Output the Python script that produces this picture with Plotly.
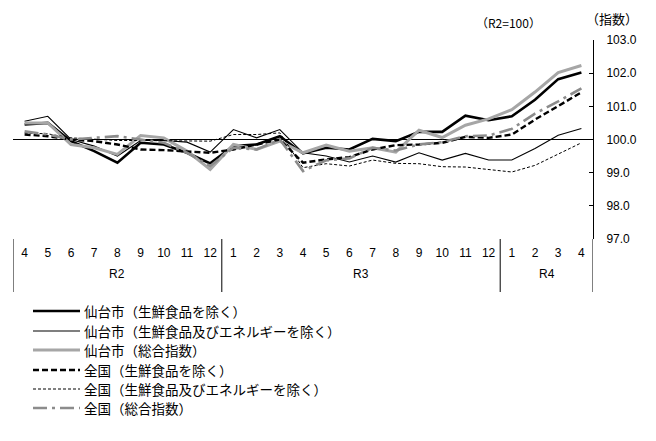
import plotly.graph_objects as go

# ---- data ----
months = ["4", "5", "6", "7", "8", "9", "10", "11", "12",
          "1", "2", "3", "4", "5", "6", "7", "8", "9", "10", "11", "12",
          "1", "2", "3", "4"]
years = ["R2", "R3", "R4"]
year_centers = [4, 14.5, 22.5]
year_breaks = [-0.5, 8.5, 20.5, 24.5]

sendai_core = [100.45, 100.5, 99.95, 99.65, 99.3, 99.9, 99.85, 99.6, 99.28,
               99.8, 99.85, 100.1, 99.58, 99.75, 99.7, 100.02, 99.95, 100.23, 100.23,
               100.72, 100.58, 100.7, 101.2, 101.82, 102.02]
sendai_corecore = [100.55, 100.7, 100.0, 99.8, 99.5, 99.97, 99.97, 99.92, 99.62,
                   100.3, 100.05, 100.3, 99.6, 99.5, 99.32, 99.5, 99.32, 99.6, 99.38,
                   99.58, 99.38, 99.38, 99.73, 100.13, 100.33]
sendai_all = [100.5, 100.5, 99.85, 99.75, 99.55, 100.12, 100.05, 99.65, 99.1,
              99.85, 99.7, 99.95, 99.6, 99.83, 99.65, 99.75, 99.62, 100.28, 100.06,
              100.43, 100.62, 100.9, 101.43, 102.02, 102.23]
national_core = [100.15, 100.1, 100.0, 99.95, 99.85, 99.7, 99.68, 99.65, 99.6,
                 99.7, 99.85, 100.0, 99.3, 99.4, 99.47, 99.7, 99.83, 99.85, 99.9,
                 100.08, 100.05, 100.15, 100.6, 101.0, 101.42]
national_corecore = [100.2, 100.17, 100.05, 100.0, 99.97, 99.97, 99.97, 99.97, 99.95,
                     100.15, 100.15, 100.2, 99.15, 99.27, 99.2, 99.38, 99.28, 99.27, 99.18,
                     99.17, 99.1, 99.02, 99.22, 99.55, 99.9]
national_all = [100.25, 100.15, 100.0, 100.05, 100.1, 100.0, 99.9, 99.6, 99.2,
                99.75, 99.7, 100.0, 99.05, 99.37, 99.43, 99.75, 99.67, 99.85, 99.92,
                100.1, 100.12, 100.32, 100.78, 101.15, 101.54]

names = ["仙台市（生鮮食品を除く）", "仙台市（生鮮食品及びエネルギーを除く）", "仙台市（総合指数）",
         "全国（生鮮食品を除く）", "全国（生鮮食品及びエネルギーを除く）", "全国（総合指数）"]
series = [sendai_core, sendai_corecore, sendai_all, national_core, national_corecore, national_all]
styles = [
    dict(color="black", width=2.6, dash="solid"),
    dict(color="black", width=1.1, dash="solid"),
    dict(color="#A6A6A6", width=3, dash="solid"),
    dict(color="black", width=2.4, dash="6px,3px"),
    dict(color="black", width=1, dash="3px,2px"),
    dict(color="#8C8C8C", width=2.6, dash="14px,5px,3px,5px"),
]

# page offset (browser body margin) is 8px
OFF = 8
W, H = 656 - OFF, 441 - OFF
ML, MR, MT, MB = 13 - OFF, 63, 40 - OFF, 202
PW, PH = W - ML - MR, H - MT - MB


def px_x(p):
    # p = page pixel x
    return (p - OFF - ML) / PW


def px_y(p):
    return (H - MB - (p - OFF)) / PH


x = list(range(len(months)))
fig = go.Figure()
for name, vals, st in zip(names, series, styles):
    fig.add_trace(go.Scatter(x=x, y=vals, mode="lines", name=name, line=st,
                             showlegend=False, hoverinfo="skip"))

shapes = []
shapes.append(dict(type="line", xref="x", yref="y", x0=-0.5, x1=24.5, y0=100, y1=100,
                   line=dict(color="black", width=1), layer="below"))
for b in year_breaks:
    shapes.append(dict(type="line", xref="x", yref="paper", x0=b, x1=b,
                       y0=0, y1=px_y(292), line=dict(color="black", width=1)))

annotations = []
for lab, c in zip(years, year_centers):
    annotations.append(dict(text=lab, x=c, y=px_y(274), xref="x", yref="paper",
                            xanchor="center", yanchor="middle", showarrow=False,
                            font=dict(size=12, family="Liberation Sans", color="black")))
annotations.append(dict(text="（R2=100）", x=px_x(508), y=px_y(22), xref="paper", yref="paper",
                        xanchor="center", yanchor="middle", showarrow=False,
                        font=dict(size=12, family="Noto Sans CJK JP", color="black")))
annotations.append(dict(text="（指数）", x=px_x(612), y=px_y(OFF), xref="paper", yref="paper",
                        xanchor="center", yanchor="top", showarrow=False, borderpad=0,
                        font=dict(size=13, family="Noto Sans CJK JP", color="black")))

rows = [311, 331, 350, 370, 389, 408]
for name, st, ry in zip(names, styles, rows):
    shapes.append(dict(type="line", xref="paper", yref="paper", x0=px_x(33), x1=px_x(80),
                       y0=px_y(ry), y1=px_y(ry), line=st))
    annotations.append(dict(text=name, x=px_x(82), y=px_y(ry), xref="paper", yref="paper",
                            xanchor="left", yanchor="middle", showarrow=False,
                            font=dict(size=13.5, family="Noto Sans CJK JP", color="black")))

fig.update_layout(
    width=W, height=H,
    margin=dict(l=ML, r=MR, t=MT, b=MB),
    paper_bgcolor="white", plot_bgcolor="white",
    shapes=shapes, annotations=annotations,
    xaxis=dict(range=[-0.5, 24.5], tickmode="array", tickvals=x, ticktext=months,
               showgrid=False, zeroline=False, showline=False, ticks="",
               ticklabelstandoff=5,
               tickfont=dict(size=12, family="Liberation Sans", color="black")),
    yaxis=dict(range=[97, 103], side="right", dtick=1, tick0=97, tickformat=".1f",
               showgrid=False, zeroline=False, showline=True, linecolor="black", linewidth=1,
               ticks="inside", ticklen=4, tickcolor="black", ticklabelstandoff=10,
               tickfont=dict(size=12, family="Liberation Sans", color="black")),
)

fig.write_html("out.html")
